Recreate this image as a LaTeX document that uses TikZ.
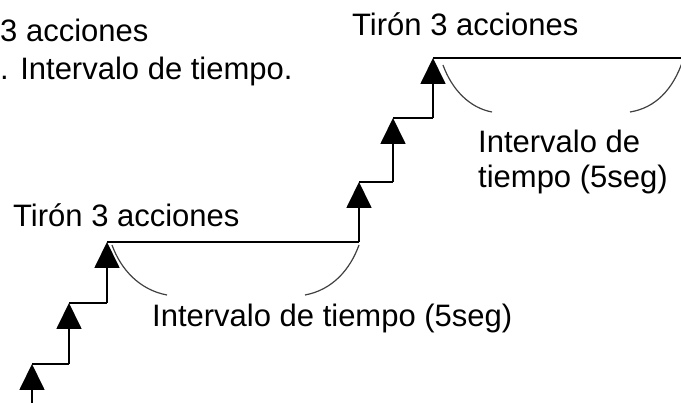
\documentclass[tikz,border=0pt]{standalone}
\usepackage{fontspec}
\setmainfont{Liberation Sans}
\usetikzlibrary{arrows.meta}

\begin{document}
\begin{tikzpicture}[
  x=1pt,y=-1pt,
  stair/.style={line width=1.8pt,black},
  rise/.style={stair,-{Triangle[width=25pt,length=26pt]}},
  span/.style={line width=1.2pt,black!75},
  lbl/.style={
    anchor=base west,
    inner sep=0pt,
    align=left,
    font=\fontsize{31}{35}\selectfont
  }
]
  \useasboundingbox (0,0) rectangle (681,403);
  % corners of the stairs
  \coordinate (s0) at (32,405);
  \coordinate (s1) at (32,364);
  \coordinate (t1) at (69,364);
  \coordinate (s2) at (69,303);
  \coordinate (t2) at (107,303);
  \coordinate (s3) at (107,242);
  \coordinate (t3) at (359,242);
  \coordinate (s4) at (359,182);
  \coordinate (t4) at (393,182);
  \coordinate (s5) at (393,118);
  \coordinate (t5) at (433,118);
  \coordinate (s6) at (433,58);
  \coordinate (t6) at (684,58);
  \foreach \a/\b in {s1/t1,s2/t2,s3/t3,s4/t4,s5/t5,s6/t6}
    \draw[stair] (\a) -- (\b);
  \foreach \a/\b in {s0/s1,t1/s2,t2/s3,t3/s4,t4/s5,t5/s6}
    \draw[rise] (\a) -- (\b);
  % time intervals
  \draw[span] (112,245) .. controls (121,270) and (140,290) .. (167,295);
  \draw[span] (305,295) .. controls (332,290) and (350,270) .. (359,245);
  \draw[span] (443,65) .. controls (452,90) and (470,108) .. (492,112);
  \draw[span] (630,112) .. controls (655,108) and (673,90) .. (683,60);
  % labels
  \node[lbl] (pull0) at (0,42) {3 acciones};
  \node[lbl] (gap0) at (0,80) {. Intervalo de tiempo.};
  \node[lbl] (pull1) at (13,227) {Tirón 3 acciones};
  \node[lbl] (gap1) at (152,327) {Intervalo de tiempo (5seg)};
  \node[lbl] (pull2) at (352,36) {Tirón 3 acciones};
  \node[lbl] (gap2) at (478,188) {Intervalo de\\tiempo (5seg)};
\end{tikzpicture}
\end{document}
